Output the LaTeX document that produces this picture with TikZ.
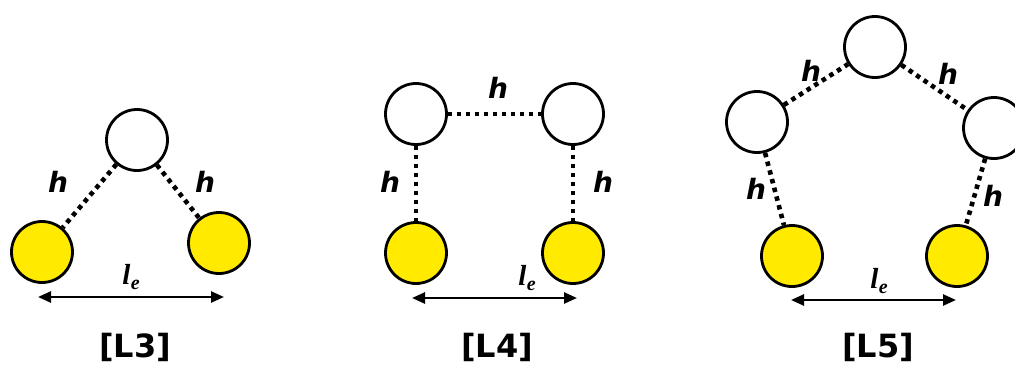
\documentclass[tikz,border=0pt]{standalone}
\usepackage{fontspec}
\setmainfont{Liberation Serif}
\newfontfamily\labelfont{DejaVu Sans}
\usetikzlibrary{arrows.meta}
\definecolor{beadyellow}{RGB}{255,234,0}
\newcommand{\lengthsym}{\textbf{\textit{l}}\kern0.5pt\raisebox{-5pt}{\fontsize{20}{20}\selectfont\textbf{\textit{e}}}}
\tikzset{
  bead/.style={circle, draw=black, line width=2.8pt, minimum size=61pt, inner sep=0pt},
  freebead/.style={bead, fill=white},
  endbead/.style={bead, fill=beadyellow},
  hbond/.style={line width=4.6pt, dash pattern=on 4.5pt off 4.5pt, black},
  hlabel/.style={font=\labelfont\bfseries\itshape\fontsize{28}{28}\selectfont, inner sep=0pt},
  lelabel/.style={font=\fontsize{29}{29}\selectfont, inner sep=0pt},
  span/.style={line width=2.5pt, {Triangle[length=13pt,width=11pt]}-{Triangle[length=13pt,width=11pt]}},
  tag/.style={font=\labelfont\bfseries\fontsize{32}{32}\selectfont, inner sep=0pt}
}
\begin{document}
\begin{tikzpicture}[x=1pt, y=-1pt]
\useasboundingbox (0,0) rectangle (1015,367);

% L3: one free bead between two end beads
\node[freebead] (a1) at (137,140) {};
\node[endbead]  (a0) at (42,252) {};
\node[endbead]  (a2) at (219,243) {};
\draw[hbond] (a1) -- (a0);
\draw[hbond] (a1) -- (a2);
\node[hlabel] (ha1) at (58,182) {h};
\node[hlabel] (ha2) at (205,182) {h};
\coordinate (al) at (38,297);
\coordinate (ar) at (224,297);
\draw[span] (al) -- (ar);
\node[lelabel] (lea) at (131,277) {\lengthsym};
\node[tag] (ta) at (135,347) {[L3]};

% L4: two free beads
\node[freebead] (b1) at (416,114) {};
\node[freebead] (b2) at (573,114) {};
\node[endbead]  (b0) at (416,253) {};
\node[endbead]  (b3) at (573,253) {};
\draw[hbond] (b1) -- (b0);
\draw[hbond] (b1) -- (b2);
\draw[hbond] (b2) -- (b3);
\node[hlabel] (hb1) at (390,182) {h};
\node[hlabel] (hb2) at (498,88) {h};
\node[hlabel] (hb3) at (603,182) {h};
\coordinate (bl) at (412,298);
\coordinate (br) at (577,298);
\draw[span] (bl) -- (br);
\node[lelabel] (leb) at (527,278) {\lengthsym};
\node[tag] (tb) at (497,347) {[L4]};

% L5: three free beads
\node[freebead] (c1) at (757,122) {};
\node[freebead] (c2) at (875,47) {};
\node[freebead] (c3) at (994,128) {};
\node[endbead]  (c0) at (792,256) {};
\node[endbead]  (c4) at (957,256) {};
\draw[hbond] (c1) -- (c0);
\draw[hbond] (c1) -- (c2);
\draw[hbond] (c2) -- (c3);
\draw[hbond] (c3) -- (c4);
\node[hlabel] (hc1) at (756,189) {h};
\node[hlabel] (hc2) at (811,71) {h};
\node[hlabel] (hc3) at (948,74) {h};
\node[hlabel] (hc4) at (993,196) {h};
\coordinate (cl) at (791,300);
\coordinate (cr) at (956,300);
\draw[span] (cl) -- (cr);
\node[lelabel] (lec) at (879,281) {\lengthsym};
\node[tag] (tc) at (878,347) {[L5]};
\end{tikzpicture}
\end{document}
